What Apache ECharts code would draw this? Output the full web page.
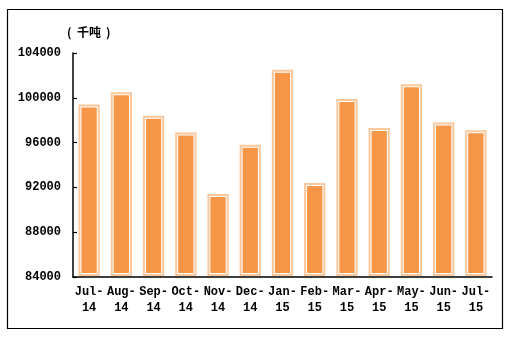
<!DOCTYPE html>
<html>
<head>
<meta charset="utf-8">
<script src="https://cdn.jsdelivr.net/npm/echarts@6/dist/echarts.min.js"></script>
<style>
  html, body { margin: 0; padding: 0; background: #fff; }
  #chart { width: 512px; height: 339px; }
</style>
</head>
<body>
<div id="chart"></div>
<script>
// Monthly volume, thousand tonnes
const months = ['Jul-\n14', 'Aug-\n14', 'Sep-\n14', 'Oct-\n14', 'Nov-\n14', 'Dec-\n14',
                'Jan-\n15', 'Feb-\n15', 'Mar-\n15', 'Apr-\n15', 'May-\n15', 'Jun-\n15', 'Jul-\n15'];
const volumes = [99400, 100500, 98400, 96900, 91400, 95800,
                 102500, 92400, 99900, 97300, 101200, 97800, 97100];
const yTicks = [84000, 88000, 92000, 96000, 100000, 104000];
const unitText = '千吨';

const FILL = '#F79646';
const RIM = '#FBC79C';
const LABEL_FONT = '"Liberation Mono", "DejaVu Sans Mono", monospace';
const CJK_FONT = 'bold 12px "Noto Sans CJK SC"';

const chart = echarts.init(document.getElementById('chart'), null, { renderer: 'canvas' });

// Bar with a light outer rim, a thin white gap and a solid orange core
function renderBar(params, api) {
  const x = api.value(0);
  const top = api.coord([x, api.value(1)]);
  const base = api.coord([x, yTicks[0]]);
  const band = api.size([1, 0])[0];
  const w = band * 0.66;
  const left = top[0] - w / 2;
  const h = base[1] - top[1];
  return {
    type: 'group',
    children: [
      { type: 'rect', shape: { x: left, y: top[1], width: w, height: h - 1 }, style: { fill: RIM } },
      { type: 'rect', shape: { x: left + 2, y: top[1] + 2, width: w - 4, height: h - 5 }, style: { fill: '#ffffff' } },
      { type: 'rect', shape: { x: left + 3, y: top[1] + 3, width: w - 6, height: h - 7 }, style: { fill: FILL } }
    ]
  };
}

chart.setOption({
  animation: false,
  backgroundColor: '#ffffff',
  grid: { left: 73, right: 20, top: 53, bottom: 62, containLabel: false },
  graphic: [
    {
      type: 'rect',
      shape: { x: 7.5, y: 9.5, width: 495, height: 319 },
      style: { fill: 'none', stroke: '#000', lineWidth: 1.2 },
      z: 100
    },
    // unit caption: ( 千吨 )
    { type: 'text', x: 67, y: 32, style: { text: '(', font: CJK_FONT, fill: '#000', verticalAlign: 'middle' } },
    { type: 'text', x: 77, y: 32, style: { text: unitText, font: CJK_FONT, fill: '#000', verticalAlign: 'middle' } },
    { type: 'text', x: 106, y: 32, style: { text: ')', font: CJK_FONT, fill: '#000', verticalAlign: 'middle' } }
  ],
  xAxis: {
    type: 'category',
    data: months,
    axisLine: { show: true, lineStyle: { color: '#000', width: 1.5 } },
    axisTick: { show: false },
    axisLabel: {
      color: '#000',
      fontFamily: LABEL_FONT,
      fontWeight: 'bold',
      fontSize: 12,
      lineHeight: 16,
      margin: 7,
      interval: 0
    }
  },
  yAxis: {
    type: 'value',
    min: yTicks[0],
    max: yTicks[yTicks.length - 1],
    interval: yTicks[1] - yTicks[0],
    axisLine: { show: true, lineStyle: { color: '#000', width: 1.5 } },
    axisTick: { show: true, inside: true, length: 4, lineStyle: { color: '#000', width: 1.2 } },
    splitLine: { show: false },
    axisLabel: {
      color: '#000',
      fontFamily: LABEL_FONT,
      fontWeight: 'bold',
      fontSize: 12,
      margin: 12,
      formatter: v => String(v)
    }
  },
  series: [{
    type: 'custom',
    renderItem: renderBar,
    encode: { x: 0, y: 1 },
    data: volumes.map((v, i) => [i, v])
  }]
});
</script>
</body>
</html>
